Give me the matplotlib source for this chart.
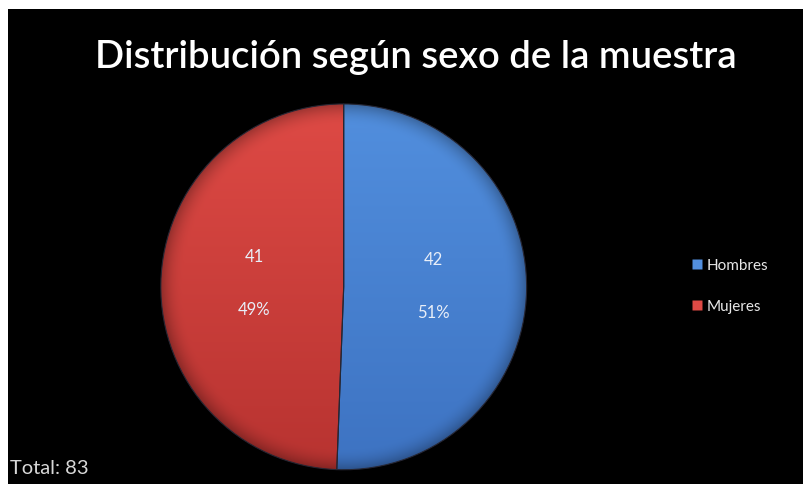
import numpy as np
import matplotlib
matplotlib.use('Agg')
import matplotlib.pyplot as plt
from matplotlib.patches import Rectangle
from matplotlib.lines import Line2D

labels = ['Hombres', 'Mujeres']
counts = [42, 41]
colors_top = [(0.32, 0.56, 0.87), (0.87, 0.29, 0.27)]
colors_bot = [(0.24, 0.45, 0.76), (0.72, 0.20, 0.19)]
title = 'Distribución según sexo de la muestra'
total_text = 'Total: 83'

plt.rcParams['font.family'] = ['Lato', 'DejaVu Sans']

fig = plt.figure(figsize=(8.04, 4.85), dpi=100, facecolor='white')
# black chart area (white strip top/left like the screenshot)
fig.patches.append(Rectangle((8/804, 0), 1, 1 - 10/485, transform=fig.transFigure,
                             facecolor='black', edgecolor='none', zorder=-5))

ax = fig.add_axes([0.2, 0.029, 0.455, 0.755])
ax.set_zorder(2)

wedges, _ = ax.pie(counts, startangle=90, counterclock=False, radius=1,
                   colors=colors_top,
                   wedgeprops=dict(edgecolor=(0.15, 0.15, 0.2), linewidth=0.8))

# shading inside each wedge
yy, xx = np.mgrid[1:-1:400j, -1:1:400j]
rr = np.sqrt(xx**2 + yy**2)
t = (1 - yy) / 2
edge = np.clip((rr - 0.88) / 0.12, 0, 1)
for w, ct, cb in zip(wedges, colors_top, colors_bot):
    img = np.zeros((400, 400, 3))
    for k in range(3):
        img[..., k] = ct[k] * (1 - t) + cb[k] * t
    img = img * (1 - 0.28 * edge[..., None]**2)
    im = ax.imshow(img, extent=[-1, 1, -1, 1], zorder=2, interpolation='bilinear')
    im.set_clip_path(w)
    w.set_zorder(3)
    w.set_facecolor('none')

ax.set_xlim(-1, 1)
ax.set_ylim(-1, 1)
ax.set_aspect('equal')
ax.axis('off')

total = sum(counts)
ang = 90
for c in counts:
    span = 360 * c / total
    mid = np.deg2rad(ang - span / 2)
    ang -= span
    x = 0.49 * np.cos(mid)
    y = 0.49 * np.sin(mid) + 0.015
    ax.text(x, y + 0.145, str(c), color='#e8eef8', fontsize=12, ha='center', va='center', zorder=5)
    ax.text(x, y - 0.145, '%d%%' % round(100 * c / total), color='#e8eef8', fontsize=12,
            ha='center', va='center', zorder=5)

fig.text(0.517, 0.882, title, color='white', fontsize=27.5, fontweight='semibold',
         ha='center', va='center')
fig.text(0.013, 0.035, total_text, color='#d8d8d8', fontsize=14.5, ha='left', va='center')

handles = [Line2D([], [], marker='s', linestyle='none', markersize=6.5,
                  markerfacecolor=c, markeredgecolor='none') for c in colors_top]
leg = fig.legend(handles, labels, loc='center left', bbox_to_anchor=(0.844, 0.409),
                 frameon=False, fontsize=11, labelspacing=1.8, handlelength=0.6,
                 handletextpad=0.35, labelcolor='#e8e8e8')

fig.savefig('out.png', dpi=100, facecolor=fig.get_facecolor())
